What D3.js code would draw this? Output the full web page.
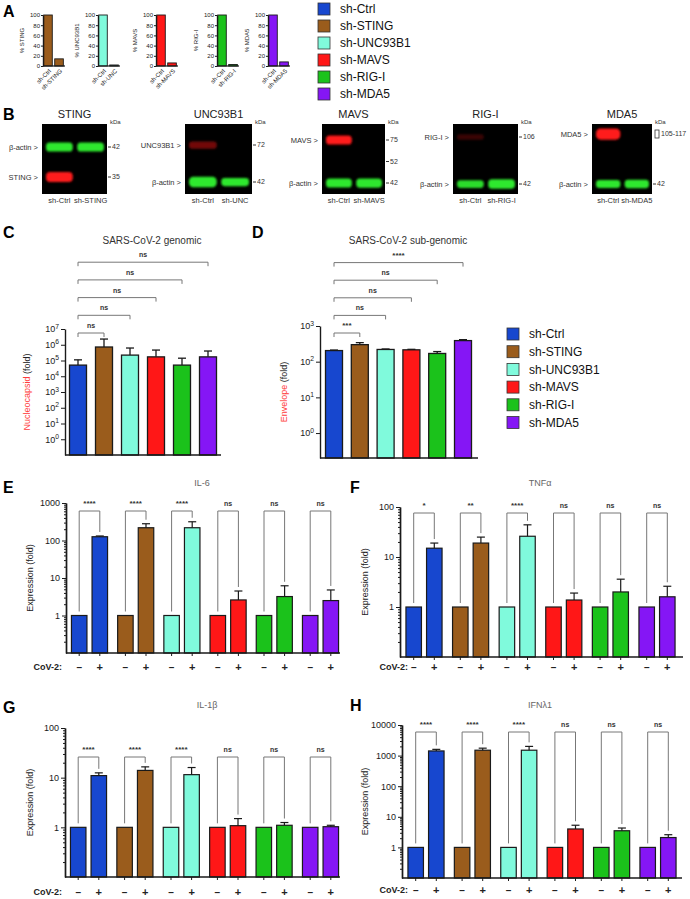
<!DOCTYPE html>
<html>
<head>
<meta charset="utf-8">
<script src="https://cdn.jsdelivr.net/npm/d3@7"></script>
<style>
  body { margin: 0; background: #fff; }
  svg { display: block; font-family: "Liberation Sans", Arial, Helvetica, sans-serif; }
</style>
</head>
<body>
<svg id="fig" width="690" height="899"></svg>
<script>
// ---- data ----
const groups = ["sh-Ctrl", "sh-STING", "sh-UNC93B1", "sh-MAVS", "sh-RIG-I", "sh-MDA5"];
const groupColors = ["#1747cf", "#9a5c1c", "#80fadc", "#ff1717", "#1bc21b", "#8516f5"];

// A: knockdown efficiency (%)
const kdTargets = ["STING", "UNC93B1", "MAVS", "RIG-I", "MDA5"];
const kdShort = ["sh-STING", "sh-UNC", "sh-MAVS", "sh-RIG-I", "sh-MDA5"];
const ctrlPct = [100, 100, 100, 100, 100];
const kdPct = [14, 2, 6, 3, 8];
const pctTicks = [0, 20, 40, 60, 80, 100];

// B: western blots (relative band signal per lane: [sh-Ctrl, sh-X])
const blotRows = [["β-actin", "STING"], ["UNC93B1", "β-actin"], ["MAVS", "", "β-actin"], ["RIG-I", "β-actin"], ["MDA5", "β-actin"]];
const blotMarkers = [["42", "35"], ["72", "42"], ["75", "52", "42"], ["106", "42"], ["105-117", "42"]];
const blotSignal = [
  [[1, 1], [1, 0]],
  [[0.45, 0], [1.3, 0.85]],
  [[0.8, 0], [0, 0], [1, 1.05]],
  [[0.12, 0], [0.75, 1.1]],
  [[1.25, 0], [0.8, 0.9]]
];

// C: genomic (Nucleocapsid fold)
const genomicMean = [5.1e4, 7.2e5, 2.2e5, 1.7e5, 5.1e4, 1.7e5];
const genomicErr = [1.1e5, 2.3e6, 6.2e5, 4.6e5, 1.4e5, 4.0e5];
const genomicSig = ["ns", "ns", "ns", "ns", "ns"];
const genomicTicks = [1, 10, 100, 1e3, 1e4, 1e5, 1e6, 1e7];

// D: sub-genomic (Envelope fold)
const subMean = [205, 300, 220, 215, 170, 390];
const subErr = [212, 342, 227, 222, 192, 415];
const subSig = ["***", "ns", "ns", "ns", "****"];
const subTicks = [1, 10, 100, 1000];

// E-H: cytokine expression (fold), mock vs CoV-2
const infection = ["–", "+"];
const mockFold = [1, 1, 1, 1, 1, 1];

const il6Cov = [126, 219, 219, 2.6, 3.2, 2.5];
const il6Err = [132, 280, 316, 4.5, 6.2, 4.8];
const il6Sig = ["****", "****", "****", "ns", "ns", "ns"];
const il6Ticks = [1, 10, 100, 1000];

const tnfCov = [15, 19, 26, 1.38, 2.0, 1.6];
const tnfErr = [19, 25, 44, 1.9, 3.6, 2.6];
const tnfSig = ["*", "**", "****", "ns", "ns", "ns"];
const tnfTicks = [1, 10, 100];

const il1bCov = [11, 14, 11.5, 1.08, 1.1, 1.03];
const il1bErr = [12.5, 16.5, 16, 1.5, 1.25, 1.1];
const il1bSig = ["****", "****", "****", "ns", "ns", "ns"];
const il1bTicks = [1, 10, 100];

const ifnCov = [1420, 1500, 1500, 4, 3.5, 2.1];
const ifnErr = [1600, 1750, 2000, 5.3, 4.3, 2.6];
const ifnSig = ["****", "****", "****", "ns", "ns", "ns"];
const ifnTicks = [1, 10, 100, 1000, 10000];

// ---- drawing ----
const svg = d3.select("#fig");
const INK = "#1a1a1a";

const defs = svg.append("defs");
defs.append("filter").attr("id", "glow").attr("x", "-30%").attr("y", "-80%").attr("width", "160%").attr("height", "260%")
  .append("feGaussianBlur").attr("stdDeviation", 0.9);

function letter(ch, x, y) {
  svg.append("text").attr("x", x).attr("y", y).attr("dy", "0.35em")
    .attr("font-size", 16).attr("font-weight", "bold").text(ch);
}

function styleAxis(sel, fs) {
  sel.select(".domain").attr("stroke", INK).attr("stroke-width", 1.4);
  sel.selectAll(".tick line").attr("stroke", INK).attr("stroke-width", 1);
  sel.selectAll(".tick text").attr("font-size", fs).attr("fill", INK);
}

function legend(x, y, step) {
  const g = svg.append("g");
  groups.forEach((name, i) => {
    g.append("rect").attr("x", x).attr("y", y + i * step - 6).attr("width", 12).attr("height", 12)
      .attr("fill", groupColors[i]).attr("stroke", "#333").attr("stroke-width", 0.8);
    g.append("text").attr("x", x + 22).attr("y", y + i * step).attr("dy", "0.35em")
      .attr("font-size", 12).attr("fill", "#111").text(name);
  });
}

// ---------- A ----------
letter("A", 3, 11);
const aAxisX = [43, 98, 156, 217, 268];
const aY = d3.scaleLinear().domain([0, 100]).range([66, 15]);
kdTargets.forEach((t, i) => {
  const x0 = aAxisX[i];
  const ax = d3.scaleBand().domain(["sh-Ctrl", kdShort[i]]).range([x0, x0 + 21]).paddingInner(0.22).paddingOuter(0.06);
  const g = svg.append("g");
  const vals = [ctrlPct[i], kdPct[i]];
  ax.domain().forEach((lab, j) => {
    g.append("rect").attr("x", ax(lab)).attr("y", aY(vals[j])).attr("width", ax.bandwidth())
      .attr("height", aY(0) - aY(vals[j])).attr("fill", groupColors[i + 1]).attr("stroke", INK).attr("stroke-width", 0.9);
    g.append("text").attr("transform", `translate(${ax(lab) + ax.bandwidth() / 2 + 2},${aY(0) + 4}) rotate(-45)`)
      .attr("text-anchor", "end").attr("dy", "0.35em").attr("font-size", 6).attr("fill", INK).text(lab);
  });
  g.append("g").attr("transform", `translate(${x0},0)`)
    .call(d3.axisLeft(aY).tickValues(pctTicks).tickSize(2).tickPadding(1).tickSizeOuter(0))
    .call(styleAxis, 6);
  g.append("line").attr("x1", x0).attr("x2", x0 + 22).attr("y1", aY(0)).attr("y2", aY(0)).attr("stroke", INK).attr("stroke-width", 1.2);
  g.append("text").attr("transform", `translate(${x0 - 19},${(aY(0) + aY(100)) / 2}) rotate(-90)`)
    .attr("text-anchor", "middle").attr("font-size", 6).attr("fill", INK).text("% " + t);
});
legend(318, 9, 17);

// ---------- B ----------
letter("B", 3, 114);
const blotBox = [
  { x0: 42, x1: 107, r0: 147, r1: 177 },
  { x0: 185, x1: 252, r0: 145, r1: 182 },
  { x0: 322, x1: 385, r0: 140, r1: 183 },
  { x0: 453, x1: 518, r0: 137, r1: 184 },
  { x0: 592, x1: 652, r0: 134, r1: 184 }
];
const blotTop = 124, blotBot = 194;
kdTargets.forEach((t, i) => {
  const b = blotBox[i];
  const g = svg.append("g");
  const lane = d3.scaleBand().domain(["sh-Ctrl", kdShort[i]]).range([b.x0 + 3, b.x1 - 2]).paddingInner(0.08);
  const row = d3.scalePoint().domain(d3.range(blotRows[i].length)).range([b.r0, b.r1]);
  g.append("rect").attr("x", b.x0).attr("y", blotTop).attr("width", b.x1 - b.x0).attr("height", blotBot - blotTop).attr("fill", "#000");
  g.append("text").attr("x", (b.x0 + b.x1) / 2).attr("y", 118).attr("text-anchor", "middle").attr("font-size", 11).attr("fill", "#222").text(t);
  g.append("text").attr("x", b.x1 + 3).attr("y", 124).attr("font-size", 6).attr("fill", "#333").text("kDa");
  blotRows[i].forEach((name, r) => {
    const yy = row(r);
    const isActin = name === "β-actin";
    if (name) {
      g.append("text").attr("x", b.x0 - 4).attr("y", yy).attr("dy", "0.35em").attr("text-anchor", "end")
        .attr("font-size", 7.5).attr("fill", "#333").text(name + " >");
    }
    const mk = blotMarkers[i][r];
    if (mk.includes("-")) {
      g.append("rect").attr("x", b.x1 + 3).attr("y", yy - 4).attr("width", 4).attr("height", 8)
        .attr("fill", "none").attr("stroke", "#333").attr("stroke-width", 0.8);
      g.append("text").attr("x", b.x1 + 9).attr("y", yy).attr("dy", "0.35em").attr("font-size", 7).attr("fill", "#333").text(mk);
    } else {
      g.append("line").attr("x1", b.x1 + 1).attr("x2", b.x1 + 4).attr("y1", yy).attr("y2", yy).attr("stroke", "#333");
      g.append("text").attr("x", b.x1 + 5).attr("y", yy).attr("dy", "0.35em").attr("font-size", 7).attr("fill", "#333").text(mk);
    }
    lane.domain().forEach((ln, j) => {
      const s = blotSignal[i][r][j] || 0;
      if (s <= 0.02) return;
      const h = isActin ? 4 + 5 * s : 5 + 5 * s;
      const red = s < 0.6 ? "#b01010" : "#ff1a1a";
      g.append("rect").attr("x", lane(ln) + 1).attr("y", yy - h / 2).attr("width", lane.bandwidth() - 2).attr("height", h)
        .attr("rx", h / 2.5).attr("fill", isActin ? "#2ee82e" : red)
        .attr("opacity", Math.min(1, 0.2 + s)).attr("filter", "url(#glow)");
    });
  });
  lane.domain().forEach((ln) => {
    g.append("text").attr("x", lane(ln) + lane.bandwidth() / 2).attr("y", 203).attr("text-anchor", "middle")
      .attr("font-size", 7.5).attr("fill", "#333").text(ln);
  });
});

// ---------- C & D ----------
function supLabels(sel) {
  sel.selectAll(".tick text").each(function (d) {
    const e = Math.round(Math.log10(d));
    const t = d3.select(this).text("10");
    t.append("tspan").attr("dy", "-0.55em").attr("font-size", "0.75em").text(e);
  });
}

function viralPanel(o, mean, err, sig, ticks) {
  const g = svg.append("g");
  letter(o.letter, o.lx, o.ly);
  g.append("text").attr("x", o.tx).attr("y", o.ty).attr("dy", "0.35em").attr("text-anchor", "middle")
    .attr("font-size", 10).attr("fill", "#333").text(o.title);
  const y = d3.scaleLog().domain(o.domain).range([o.bot, o.top]);
  const x = d3.scalePoint().domain(groups).range(o.centers);
  const bw = 17;
  groups.forEach((grp, i) => {
    g.append("rect").attr("x", x(grp) - bw / 2).attr("y", y(mean[i])).attr("width", bw).attr("height", o.bot - y(mean[i]))
      .attr("fill", groupColors[i]).attr("stroke", INK).attr("stroke-width", 1.3);
    g.append("line").attr("x1", x(grp)).attr("x2", x(grp)).attr("y1", y(mean[i])).attr("y2", y(err[i])).attr("stroke", INK).attr("stroke-width", 1.3);
    g.append("line").attr("x1", x(grp) - 4).attr("x2", x(grp) + 4).attr("y1", y(err[i])).attr("y2", y(err[i])).attr("stroke", INK).attr("stroke-width", 1.3);
  });
  g.append("g").attr("transform", `translate(${o.axisX},0)`)
    .call(d3.axisLeft(y).tickValues(ticks).tickSize(4).tickPadding(2).tickSizeOuter(0))
    .call(styleAxis, 9).call(supLabels);
  g.append("line").attr("x1", o.axisX).attr("x2", o.xEnd).attr("y1", o.bot).attr("y2", o.bot).attr("stroke", INK).attr("stroke-width", 1.4);
  const yl = g.append("text").attr("transform", `translate(${o.ylabX},${(o.top + o.bot) / 2}) rotate(-90)`)
    .attr("text-anchor", "middle").attr("font-size", 9);
  yl.append("tspan").attr("fill", "#ff3b3b").text(o.ylab[0]);
  yl.append("tspan").attr("fill", "#222").text(o.ylab[1]);
  // comparisons against sh-Ctrl
  sig.forEach((s, k) => {
    const yb = o.bracketBase - k * o.bracketStep;
    const xa = x(groups[0]), xb = x(groups[k + 1]);
    g.append("path").attr("d", `M${xa},${yb + 4}V${yb}H${xb}V${yb + 4}`).attr("fill", "none").attr("stroke", "#777").attr("stroke-width", 1);
    g.append("text").attr("x", (xa + xb) / 2).attr("y", yb - 5).attr("text-anchor", "middle")
      .attr("font-size", s === "ns" ? 7 : 8).attr("font-weight", "bold").attr("fill", "#333").text(s);
  });
}

viralPanel({ letter: "C", lx: 3, ly: 232, title: "SARS-CoV-2 genomic", tx: 152, ty: 240,
  axisX: 65, xEnd: 221, top: 329, bot: 455, domain: [0.1, 1e7], centers: [78, 208],
  ylab: ["Nucleocapsid", " (fold)"], ylabX: 30, bracketBase: 333, bracketStep: 17.7 },
  genomicMean, genomicErr, genomicSig, genomicTicks);

viralPanel({ letter: "D", lx: 252, ly: 232, title: "SARS-CoV-2 sub-genomic", tx: 408, ty: 240,
  axisX: 320, xEnd: 478, top: 326, bot: 458, domain: [0.2, 1000], centers: [334, 463],
  ylab: ["Envelope", " (fold)"], ylabX: 287, bracketBase: 333, bracketStep: 17.6 },
  subMean, subErr, subSig, subTicks);

legend(507, 334, 17.7);

// ---------- E-H ----------
function cytokinePanel(o, cov, err, sig, ticks) {
  const g = svg.append("g");
  letter(o.letter, o.lx, o.ly);
  g.append("text").attr("x", o.tx).attr("y", o.ty).attr("dy", "0.35em").attr("text-anchor", "middle")
    .attr("font-size", 9).attr("fill", "#666").text(o.title);
  const y = d3.scaleLog().domain(o.domain).range([o.bot, o.top]);
  const gx = d3.scalePoint().domain(groups).range(o.centers);
  const sub = d3.scalePoint().domain(infection).range([-10.3, 10.3]);
  const bw = 15.5;

  groups.forEach((grp, i) => {
    const vals = [mockFold[i], cov[i]];
    infection.forEach((inf, j) => {
      const cx = gx(grp) + sub(inf);
      g.append("rect").attr("x", cx - bw / 2).attr("y", y(vals[j])).attr("width", bw).attr("height", o.bot - y(vals[j]))
        .attr("fill", groupColors[i]).attr("stroke", INK).attr("stroke-width", 1.2);
      g.append("line").attr("x1", cx).attr("x2", cx).attr("y1", o.bot).attr("y2", o.bot + 3).attr("stroke", INK);
      g.append("text").attr("x", cx).attr("y", o.covY).attr("dy", "0.35em").attr("text-anchor", "middle")
        .attr("font-size", inf === "+" ? 11 : 10).attr("font-weight", "bold").attr("fill", "#222").text(inf);
    });
    const cp = gx(grp) + sub("+"), cm = gx(grp) + sub("–");
    g.append("line").attr("x1", cp).attr("x2", cp).attr("y1", y(cov[i])).attr("y2", y(err[i])).attr("stroke", INK).attr("stroke-width", 1.2);
    g.append("line").attr("x1", cp - 4).attr("x2", cp + 4).attr("y1", y(err[i])).attr("y2", y(err[i])).attr("stroke", INK).attr("stroke-width", 1.2);
    // bracket
    const yb = o.bracketY;
    g.append("path").attr("d", `M${cm},${y(mockFold[i]) - 4}V${yb}H${cp}V${y(err[i]) - 4}`)
      .attr("fill", "none").attr("stroke", "#777").attr("stroke-width", 1);
    g.append("text").attr("x", (cm + cp) / 2).attr("y", yb - 5).attr("text-anchor", "middle")
      .attr("font-size", sig[i] === "ns" ? 7 : 8).attr("font-weight", "bold").attr("fill", "#333").text(sig[i]);
  });

  const minor = y.ticks().filter(v => !ticks.includes(v) && Math.abs(Math.log10(v) - Math.round(Math.log10(v))) > 1e-6);
  g.append("g").attr("transform", `translate(${o.axisX},0)`)
    .call(d3.axisLeft(y).tickValues(minor).tickSize(2).tickFormat("").tickSizeOuter(0))
    .call(styleAxis, 9);
  g.append("g").attr("transform", `translate(${o.axisX},0)`)
    .call(d3.axisLeft(y).tickValues(ticks).tickSize(4).tickPadding(2).tickFormat(d3.format("d")).tickSizeOuter(0))
    .call(styleAxis, 9);
  g.append("line").attr("x1", o.axisX).attr("x2", o.xEnd).attr("y1", o.bot).attr("y2", o.bot).attr("stroke", INK).attr("stroke-width", 1.4);
  g.append("text").attr("transform", `translate(${o.ylabX},${(o.top + o.bot) / 2}) rotate(-90)`)
    .attr("text-anchor", "middle").attr("font-size", 9).attr("fill", "#222").text("Expression (fold)");
  g.append("text").attr("x", o.covX).attr("y", o.covY).attr("dy", "0.35em").attr("text-anchor", "end")
    .attr("font-size", 9).attr("font-weight", "bold").attr("fill", "#222").text("CoV-2:");
}

cytokinePanel({ letter: "E", lx: 3, ly: 487, title: "IL-6", tx: 202, ty: 483, axisX: 66, xEnd: 340,
  top: 503, bot: 653, domain: [0.1, 1000], centers: [89.5, 320.5], bracketY: 511, covY: 667, covX: 62, ylabX: 33 },
  il6Cov, il6Err, il6Sig, il6Ticks);

cytokinePanel({ letter: "F", lx: 350, ly: 487, title: "TNFα", tx: 540, ty: 483, axisX: 400, xEnd: 683,
  top: 507, bot: 657, domain: [0.1, 100], centers: [424, 657], bracketY: 513, covY: 667, covX: 408, ylabX: 368 },
  tnfCov, tnfErr, tnfSig, tnfTicks);

cytokinePanel({ letter: "G", lx: 3, ly: 707, title: "IL-1β", tx: 207, ty: 705, axisX: 65, xEnd: 340,
  top: 728, bot: 877, domain: [0.1, 100], centers: [88.5, 320.5], bracketY: 757, covY: 892, covX: 62, ylabX: 33 },
  il1bCov, il1bErr, il1bSig, il1bTicks);

cytokinePanel({ letter: "H", lx: 350, ly: 705, title: "IFNλ1", tx: 540, ty: 705, axisX: 402, xEnd: 682,
  top: 725, bot: 878, domain: [0.1, 10000], centers: [426, 658], bracketY: 732, covY: 890, covX: 408, ylabX: 368 },
  ifnCov, ifnErr, ifnSig, ifnTicks);
</script>
</body>
</html>
